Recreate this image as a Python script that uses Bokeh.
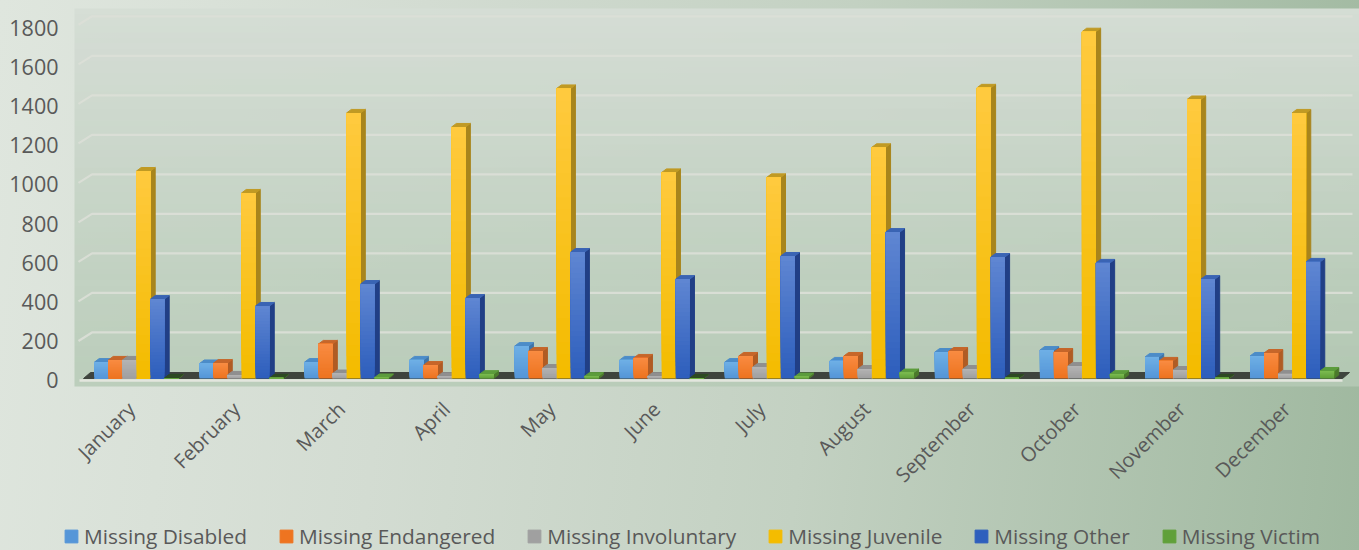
import numpy as np
from math import pi
from bokeh.plotting import figure
from bokeh.models import Range1d, FixedTicker, Legend, LegendItem
from bokeh.embed import file_html
from bokeh.resources import INLINE

months = ["January","February","March","April","May","June","July","August","September","October","November","December"]
series = ["Missing Disabled","Missing Endangered","Missing Involuntary","Missing Juvenile","Missing Other","Missing Victim"]
disabled = [83,76,83,94,164,94,83,89,134,144,109,114]
endangered = [94,78,175,68,139,104,114,114,139,134,89,129]
involuntary = [94,18,25,12,53,12,58,48,48,63,43,23]
juvenile = [1050,939,1344,1273,1468,1043,1018,1170,1471,1755,1412,1344]
other = [402,367,478,407,640,503,620,741,615,585,503,590]
victim = [3,3,5,22,12,2,10,30,3,22,3,38]
y_ticks = [0,200,400,600,800,1000,1200,1400,1600,1800]

front_top = ["#6fb0e6","#f98c42","#b4b4b4","#ffca3e","#5f86d2","#7cbb50"]
front_bot = ["#5596d8","#ee7420","#a0a0a0","#f4bc00","#2e5fbd","#60a03a"]
side = ["#3f74a8","#b05c24","#7c7c7c","#a8851c","#213f86","#4b7a2c"]
top = ["#4c8cc8","#c6662a","#8f8f8f","#c09a24","#3a64b4","#5c9c3c"]

# geometry, in pixels of the reference
PX_M, PX_U = 105.05, 0.1976
BAR = 14 / PX_M
DX, DY = 4.7 / PX_M, 3.5 / PX_U
W, H = 1359, 550
L, FH = 60, 550          # the frame reaches the foot of the page so that it can hold the legend
WALL_L, WALL_T, WALL_B = 74, 8, 386
x0_px, y0_px = 136, 378

p = figure(width=W, height=None, output_backend="svg", toolbar_location=None,
           min_border_left=L, min_border_right=0, min_border_top=0, min_border_bottom=0,
           frame_width=W - L, frame_height=FH,
           x_range=Range1d((L - x0_px) / PX_M, (W - x0_px) / PX_M),
           y_range=Range1d(-(FH - y0_px) / PX_U, y0_px / PX_U),
           x_axis_location="below", y_axis_location="left")
p.styles = {"background": "linear-gradient(97deg,#dfe6de 0%,#d3dcd2 30%,#c3d1c2 60%,#9fb89f 100%)",
            "background-size": f"{W}px {H}px", "background-repeat": "no-repeat",
            "max-height": f"{H}px", "overflow": "hidden"}
p.border_fill_alpha = 0
p.background_fill_alpha = 0
p.outline_line_alpha = 0
p.grid.visible = False

# wall shading
xr, yr = p.x_range, p.y_range
N = 64
grad = np.zeros((N, 1), dtype=np.uint32)
view = grad.view(dtype=np.uint8).reshape((N, 1, 4))
for i in range(N):
    t = i / (N - 1)          # 0 bottom, 1 top
    c = np.array([182, 202, 182]) * (1 - t) + np.array([213, 221, 213]) * t
    view[i, 0, :3] = c
    view[i, 0, 3] = int(255 * (0.85 + 0.13 * t))
wall_x = (WALL_L - x0_px) / PX_M
wall_y0 = (y0_px - WALL_B) / PX_U
wall_y1 = (y0_px - WALL_T) / PX_U
p.image_rgba(image=[grad], x=wall_x, y=wall_y0, dw=xr.end - wall_x, dh=wall_y1 - wall_y0)

# gridlines with their left return
gdx, gdy = 13.5 / PX_M, 8.5 / PX_U
xl = (78 - x0_px) / PX_M
xe = (1352 - x0_px) / PX_M
for v in y_ticks[1:]:
    p.line([xl, xl + gdx, xe], [v - 10, v - 10 + gdy, v - 10 + gdy], line_color="#dcdfd7", line_width=2.2, line_alpha=0.9)

# floor
xf0 = (83 - x0_px) / PX_M
xf1 = (1342 - x0_px) / PX_M
p.patch([xf0, xf1, xf1 + 7 / PX_M, xf0 + 7 / PX_M], [0, 0, 6 / PX_U, 6 / PX_U], color="#3e443d")
p.line([(79 - x0_px) / PX_M, xf1], [-10, -10], line_color="#e3e6de", line_width=2.4)

# 3D bars
values = [disabled, endangered, involuntary, juvenile, other, victim]
legend_items = []
idx = np.arange(len(months), dtype=float)
SEG = 24
for s, vals in enumerate(values):
    vals = np.array(vals, dtype=float)
    left = idx + (s - 3) * BAR
    right = left + BAR
    p.patches([[r, r + DX, r + DX, r] for r in right],
              [[0, DY, v + DY, v] for v in vals], color=side[s])
    tops = [("#2d4a22" if (s == 5 and v < 5) else top[s]) for v in vals]
    p.patches([[l, l + DX, r + DX, r] for l, r in zip(left, right)],
              [[v, v + DY, v + DY, v] for v in vals], fill_color=tops, line_color=tops)
    c0 = np.array([int(front_bot[s][i:i+2], 16) for i in (1, 3, 5)])
    c1 = np.array([int(front_top[s][i:i+2], 16) for i in (1, 3, 5)])
    ql, qr, qb, qt, qc = [], [], [], [], []
    for k in range(SEG):
        t = k / (SEG - 1)
        col = "#%02x%02x%02x" % tuple(int(a) for a in (c0 * (1 - t) + c1 * t))
        ql += list(left); qr += list(right)
        qb += list(vals * k / SEG); qt += list(vals)
        qc += [col] * len(left)
    p.quad(left=ql, right=qr, bottom=qb, top=qt, fill_color=qc, line_color=None)
    rl = p.quad(left=[left[0]], right=[right[0]], bottom=[0], top=[0], fill_color=front_bot[s], line_color=front_bot[s])
    legend_items.append(LegendItem(label=series[s], renderers=[rl]))

# axes
ya = p.yaxis[0]
y_pos = [int(round(-10 + v * 0.992)) for v in y_ticks]
ya.ticker = FixedTicker(ticks=y_pos)
ya.major_label_overrides = {a: str(v) for a, v in zip(y_pos, y_ticks)}
ya.axis_line_alpha = 0
ya.major_tick_line_alpha = 0
ya.minor_tick_line_alpha = 0
ya.major_tick_out = 0
ya.major_label_text_font = "Open Sans"
ya.major_label_text_font_size = "21.5px"
ya.major_label_text_color = "#595959"
ya.major_label_standoff = 2

xa = p.xaxis[0]
x_pos = [round(i - 0.05, 3) for i in range(12)]
xa.ticker = FixedTicker(ticks=x_pos)
xa.major_label_overrides = {a: m for a, m in zip(x_pos, months)}
xa.major_label_orientation = pi / 4
xa.fixed_location = wall_y0
xa.axis_line_alpha = 0
xa.major_tick_line_alpha = 0
xa.minor_tick_line_alpha = 0
xa.major_label_text_font = "Open Sans"
xa.major_label_text_font_size = "20px"
xa.major_label_text_color = "#595959"
xa.major_label_standoff = 13

legend = Legend(items=legend_items, orientation="horizontal", location=(3, 0),
                background_fill_alpha=0, border_line_alpha=0,
                label_text_font="Open Sans", label_text_font_size="20.85px", label_text_color="#595959",
                glyph_width=16, glyph_height=16, label_standoff=5, spacing=31, margin=0, padding=0)
p.add_layout(legend, "center")

open("out.html", "w").write(file_html(p, INLINE))
